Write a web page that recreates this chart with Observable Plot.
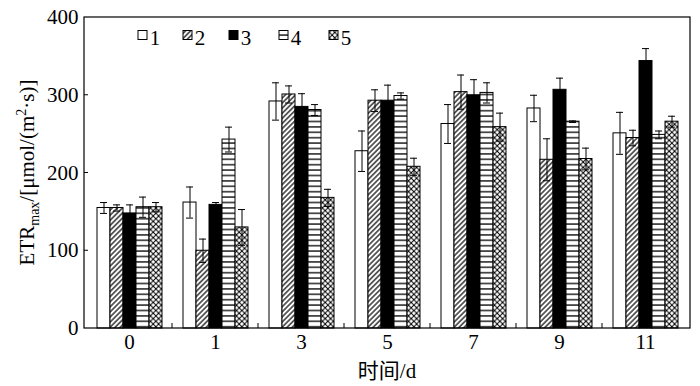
<!DOCTYPE html>
<html><head><meta charset="utf-8">
<script src="https://cdn.jsdelivr.net/npm/d3@7"></script>
<script src="https://cdn.jsdelivr.net/npm/@observablehq/plot@0.6"></script>
<style>body{margin:0;background:#fff}</style>
</head><body><div id="chart"></div>
<script>
// Categories (days) and series names
const days = ["0", "1", "3", "5", "7", "9", "11"];
const seriesNames = ["1", "2", "3", "4", "5"];
// Mean values for each series across days
const s1 = [155, 162, 292, 228, 263, 283, 251];
const s2 = [155, 100, 301, 293, 304, 217, 245];
const s3 = [148, 159, 285, 293, 300, 307, 344];
const s4 = [156, 243, 281, 299, 303, 266, 249];
const s5 = [156, 130, 168, 208, 259, 218, 266];
// Error (±) for each series
const e1 = [7, 20, 24, 26, 25, 17, 27];
const e2 = [4, 15, 11, 14, 22, 27, 10];
const e3 = [11, 3, 17, 20, 20, 15, 16];
const e4 = [13, 16, 7, 4, 13, 1, 5];
const e5 = [6, 23, 11, 11, 18, 14, 7];
const yTicks = [0, 100, 200, 300, 400];
const xLabel = "时间/d";

const FONT = "'Liberation Serif', 'Times New Roman', 'Noto Sans CJK SC', serif";
const values = [s1, s2, s3, s4, s5];
const errs = [e1, e2, e3, e4, e5];
const fills = ["white", "url(#p2)", "black", "url(#p4)", "url(#p5)"];

const rows = [];
days.forEach((d, i) => seriesNames.forEach((s, j) =>
  rows.push({day: d, series: s, value: values[j][i], err: errs[j][i]})));

const plot = Plot.plot({
  width: 700, height: 386,
  marginLeft: 84, marginRight: 10, marginTop: 17, marginBottom: 58,
  style: {fontFamily: FONT, fontSize: "21px", color: "black", background: "white", overflow: "visible"},
  fx: {domain: days, padding: 0, label: null, tickSize: 0, tickPadding: 6, axis: "bottom"},
  x: {domain: seriesNames, paddingInner: 0, paddingOuter: 0.58, axis: null},
  y: {domain: [0, 400], ticks: yTicks, tickSize: 0, tickPadding: 8, label: null},
  marks: [
    ...seriesNames.map((s, j) => Plot.barY(rows.filter(r => r.series === s), {
      fx: "day", x: "series", y: "value", fill: fills[j], stroke: "black", strokeWidth: 1, inset: 0
    })),
    Plot.ruleX(rows, {fx: "day", x: "series", y1: d => d.value - d.err, y2: d => d.value + d.err, stroke: "black", strokeWidth: 1}),
    Plot.tickY(rows, {fx: "day", x: "series", y: d => d.value + d.err, stroke: "black", strokeWidth: 1, inset: 3}),
    Plot.tickY(rows, {fx: "day", x: "series", y: d => d.value - d.err, stroke: "black", strokeWidth: 1, inset: 3})
  ]
});

const svg = d3.select(plot);
const defs = svg.insert("defs", ":first-child");
// diagonal hatch
const p2 = defs.append("pattern").attr("id", "p2").attr("patternUnits", "userSpaceOnUse")
  .attr("width", 3.6).attr("height", 3.6).attr("patternTransform", "rotate(45)");
p2.append("rect").attr("width", 3.6).attr("height", 3.6).attr("fill", "white");
p2.append("line").attr("x1", 1.8).attr("y1", -1).attr("x2", 1.8).attr("y2", 5).attr("stroke", "black").attr("stroke-width", 1.2);
// horizontal lines
const p4 = defs.append("pattern").attr("id", "p4").attr("patternUnits", "userSpaceOnUse")
  .attr("width", 8).attr("height", 5.4);
p4.append("rect").attr("width", 8).attr("height", 5.4).attr("fill", "white");
p4.append("line").attr("x1", -1).attr("y1", 2.7).attr("x2", 9).attr("y2", 2.7).attr("stroke", "black").attr("stroke-width", 1.3);
// cross hatch
const cp = 5.4;
const p5 = defs.append("pattern").attr("id", "p5").attr("patternUnits", "userSpaceOnUse")
  .attr("width", cp).attr("height", cp);
p5.append("rect").attr("width", cp).attr("height", cp).attr("fill", "white");
p5.append("line").attr("x1", -1).attr("y1", -1).attr("x2", cp + 1).attr("y2", cp + 1).attr("stroke", "black").attr("stroke-width", 1);
p5.append("line").attr("x1", cp + 1).attr("y1", -1).attr("x2", -1).attr("y2", cp + 1).attr("stroke", "black").attr("stroke-width", 1);

const fx = plot.scale("fx"), y = plot.scale("y");
const [x0, x1] = fx.range;
const yb = y.apply(0), yt = y.apply(400);
const g = svg.append("g").attr("stroke", "black").attr("fill", "none");
g.append("rect").attr("x", x0).attr("y", yt).attr("width", x1 - x0).attr("height", yb - yt).attr("stroke-width", 1.2);
days.slice(1).forEach(d => {
  const x = fx.apply(d);
  g.append("line").attr("x1", x).attr("x2", x).attr("y1", yb).attr("y2", yb - 5);
});
yTicks.slice(1, -1).forEach(v => {
  const yy = y.apply(v);
  g.append("line").attr("x1", x0).attr("x2", x0 + 4).attr("y1", yy).attr("y2", yy);
});

// y label with subscript/superscript
const yl = svg.append("text").attr("transform", `translate(34,${(yb + yt) / 2}) rotate(-90)`)
  .attr("text-anchor", "middle").attr("font-size", 21).attr("fill", "black").attr("font-family", FONT);
yl.append("tspan").text("ETR");
yl.append("tspan").attr("font-size", 14).attr("dy", 5).text("max");
yl.append("tspan").attr("dy", -5).text("/[μmol/(m");
yl.append("tspan").attr("font-size", 14).attr("dy", -8).text("2");
yl.append("tspan").attr("dy", 8).text("·s)]");

// x label
svg.append("text").attr("x", (x0 + x1) / 2).attr("y", 378).attr("text-anchor", "middle")
  .attr("font-size", 21).attr("fill", "black").attr("font-family", FONT).text(xLabel);

// legend
const legendX = [138, 183, 229, 279, 329];
const lg = svg.append("g");
seriesNames.forEach((s, j) => {
  lg.append("rect").attr("x", legendX[j]).attr("y", 30.5).attr("width", 9).attr("height", 9)
    .attr("fill", fills[j]).attr("stroke", "black").attr("stroke-width", 1);
  lg.append("text").attr("x", legendX[j] + 17).attr("y", 45).attr("font-size", 21)
    .attr("font-family", FONT).attr("fill", "black").text(s);
});

document.getElementById("chart").append(plot);
</script>
</body></html>
